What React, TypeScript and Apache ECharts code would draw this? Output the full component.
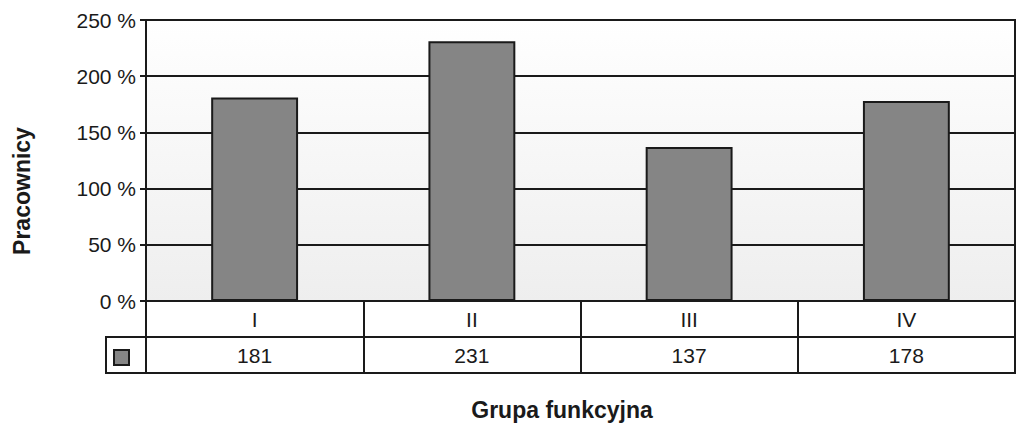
import { useEffect, useRef } from 'react';
import * as echarts from 'echarts';

const categories = ['I', 'II', 'III', 'IV'];
const values = [181, 231, 137, 178];
const yTicks = [0, 50, 100, 150, 200, 250];

const seriesName = 'Pracownicy';
const yTitle = 'Pracownicy';
const xTitle = 'Grupa funkcyjna';

const INK = '#1a1a1a';
const FONT = '"Liberation Sans", Arial, Helvetica, sans-serif';

export default function App() {
  const chartRef = useRef<HTMLDivElement>(null);

  useEffect(() => {
    if (!chartRef.current) return;
    const chart = echarts.init(chartRef.current, undefined, { renderer: 'svg' });

    const left = 146;
    const width = 869;
    const rowH = 36;

    const tableAxis = (gridIndex: number, labels: (string | number)[]) => ({
      type: 'category' as const,
      gridIndex,
      data: labels.map(String),
      boundaryGap: true,
      axisLine: { show: false },
      axisTick: { show: false },
      splitLine: { show: true, lineStyle: { color: INK, width: 2 } },
      axisLabel: {
        margin: -rowH / 2,
        verticalAlign: 'middle',
        color: INK,
        fontSize: 21,
        fontFamily: FONT,
        interval: 0,
      },
    });

    const hiddenY = (gridIndex: number) => ({
      type: 'value' as const,
      gridIndex,
      min: 0,
      max: 1,
      show: false,
    });

    chart.setOption({
      animation: false,
      backgroundColor: '#ffffff',
      textStyle: { fontFamily: FONT },
      grid: [
        {
          left,
          top: 20,
          width,
          height: 281,
          show: true,
          borderWidth: 2,
          borderColor: INK,
          backgroundColor: new echarts.graphic.LinearGradient(0, 0, 0, 1, [
            { offset: 0, color: '#ffffff' },
            { offset: 1, color: '#eeeeee' },
          ]),
        },
        { left, top: 301, width, height: rowH, show: true, borderWidth: 2, borderColor: INK },
        { left, top: 301 + rowH, width, height: rowH, show: true, borderWidth: 2, borderColor: INK },
      ],
      xAxis: [
        {
          type: 'category',
          gridIndex: 0,
          data: categories,
          show: false,
        },
        tableAxis(1, categories),
        tableAxis(2, values),
      ],
      yAxis: [
        {
          type: 'value',
          gridIndex: 0,
          min: yTicks[0],
          max: yTicks[yTicks.length - 1],
          interval: 50,
          axisLine: { show: true, lineStyle: { color: INK, width: 2 } },
          axisTick: { show: true, length: 6, lineStyle: { color: INK, width: 2 } },
          splitLine: { show: true, lineStyle: { color: INK, width: 2 } },
          axisLabel: {
            formatter: '{value} %',
            color: INK,
            fontSize: 21,
            fontFamily: FONT,
            margin: 10,
          },
        },
        hiddenY(1),
        hiddenY(2),
      ],
      legend: {
        left: 113,
        top: 349,
        itemWidth: 15,
        itemHeight: 15,
        icon: 'rect',
        padding: 0,
        formatter: () => '',
        data: [seriesName],
        selectedMode: false,
      },
      graphic: [
        {
          type: 'rect',
          shape: { x: 106, y: 337, width: 40, height: 36 },
          style: { fill: 'none', stroke: INK, lineWidth: 2 },
          z: 10,
        },
        {
          type: 'text',
          x: 22,
          y: 191,
          rotation: Math.PI / 2,
          style: {
            text: yTitle,
            fill: INK,
            font: `bold 23px ${FONT}`,
            align: 'center',
            verticalAlign: 'middle',
          },
        },
        {
          type: 'text',
          x: 562,
          y: 410,
          style: {
            text: xTitle,
            fill: INK,
            font: `bold 23px ${FONT}`,
            align: 'center',
            verticalAlign: 'middle',
          },
        },
      ],
      series: [
        {
          name: seriesName,
          type: 'bar',
          xAxisIndex: 0,
          yAxisIndex: 0,
          data: values,
          barWidth: '40%',
          itemStyle: { color: '#858585', borderColor: INK, borderWidth: 2 },
          z: 3,
        },
      ],
    });

    return () => {
      chart.dispose();
    };
  }, []);

  return (
    <div
      ref={chartRef}
      style={{ position: 'fixed', left: 0, top: 0, width: 1024, height: 428 }}
    />
  );
}
